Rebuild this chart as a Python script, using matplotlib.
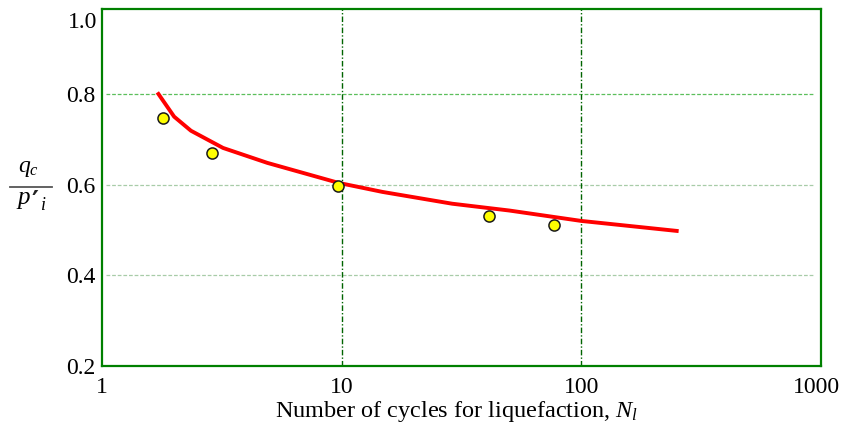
import numpy as np
import matplotlib
matplotlib.use("Agg")
import matplotlib.pyplot as plt
from matplotlib.lines import Line2D
from matplotlib.transforms import ScaledTranslation

plt.rcParams['font.family'] = ['Liberation Serif', 'DejaVu Serif']
plt.rcParams['mathtext.fontset'] = 'custom'
plt.rcParams['mathtext.rm'] = 'Liberation Serif'
plt.rcParams['mathtext.it'] = 'Liberation Serif:italic'

# measured points: cycles to liquefaction vs normalised cyclic stress
cycles = [1.80, 2.88, 9.66, 41.3, 77.1]
ratio = [0.747, 0.669, 0.598, 0.530, 0.512]

# fitted trend line
fit_cycles = [1.72, 2.0, 2.35, 3.2, 4.9, 9.7, 14.8, 28.9, 50, 100, 250]
fit_ratio = [0.800, 0.750, 0.719, 0.681, 0.648, 0.604, 0.584, 0.558, 0.543, 0.520, 0.498]

xticks = [1, 10, 100, 1000]
xtick_labels = ['1', '10', '100', '1000']
yticks = [0.2, 0.4, 0.6, 0.8]
ytick_labels = ['0.2', '0.4', '0.6', '0.8']

green = '#008000'
W, H = 842, 424

fig = plt.figure(figsize=(W / 100, H / 100), dpi=100)
ax = fig.add_axes([102 / W, 1 - 366 / H, 719 / W, 357 / H])

ax.set_xscale('log')
ax.set_xlim(1, 1000)
ax.set_ylim(0.2, 0.9875)

# grid lines
for y, c in zip([0.4, 0.6, 0.8], ['#a8cca8', '#a8cca8', '#5cbf5c']):
    ax.axhline(y, xmin=0.005, xmax=0.99, color=c, lw=0.9, ls=(0, (3, 1.5)), zorder=1)
for x in [10, 100]:
    ax.axvline(x, color='#006400', lw=1.0, ls=(0, (4, 1.5, 1, 1.5)), zorder=1)

ax.plot(fit_cycles, fit_ratio, color='#ff0000', lw=2.8, zorder=3)
ax.plot(cycles, ratio, 'o', ms=8, mfc='#ffff00', mec='#1a1a1a', mew=1.1, zorder=4)

ax.set_xticks(xticks)
ax.set_xticklabels(xtick_labels)
ax.minorticks_off()
ax.set_yticks(yticks)
ax.set_yticklabels(ytick_labels)
ax.tick_params(length=0, labelsize=17)
ax.tick_params(axis='x', pad=8)
ax.tick_params(axis='y', pad=5)
# keep the last x label inside the figure
last = ax.get_xticklabels()[-1]
last.set_transform(last.get_transform() + ScaledTranslation(-5 / 100, 0, fig.dpi_scale_trans))
ax.annotate('1.0', xy=(0, 1), xycoords='axes fraction', xytext=(-3.6, -2),
            textcoords='offset points', ha='right', va='top', fontsize=17)

for s in ax.spines.values():
    s.set_color(green)
    s.set_linewidth(1.6)

fig.text(457 / W, 1 - 417 / H, r'Number of cycles for liquefaction, $N_l$',
         ha='center', va='baseline', fontsize=17.5)

# y label drawn as a stacked fraction: q_c over p'_i
fig.text(28 / W, 1 - 172 / H, r'$q_c$', ha='center', va='baseline', fontsize=17)
fig.add_artist(Line2D([10 / W, 52 / W], [1 - 187 / H, 1 - 187 / H],
                      transform=fig.transFigure, color='#555555', lw=1.3))
fig.text(16 / W, 1 - 204 / H, r'$p$', ha='left', va='baseline', fontsize=18)
fig.text(31 / W, 1 - 210 / H, '\u2032', ha='left', va='baseline', fontsize=19,
         family='DejaVu Sans', fontweight='bold', color='#222222')
fig.text(40 / W, 1 - 210 / H, r'$i$', ha='left', va='baseline', fontsize=13)

fig.savefig('out.png', dpi=100)
